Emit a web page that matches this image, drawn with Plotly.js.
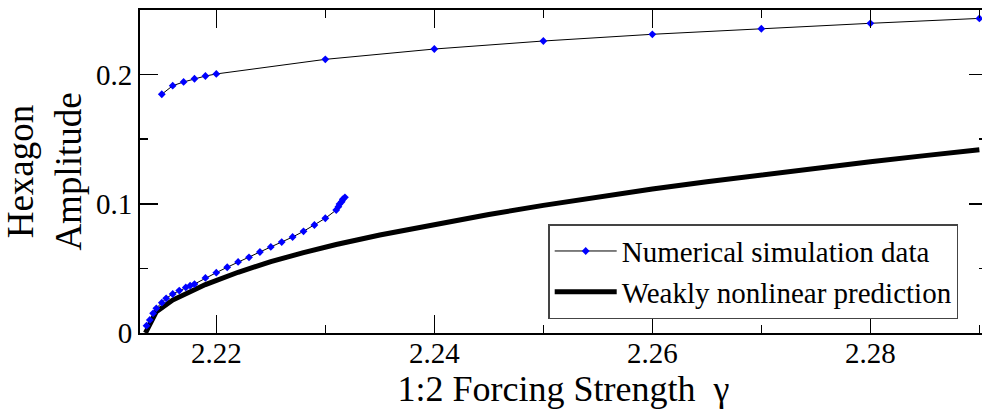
<!DOCTYPE html>
<html>
<head>
<meta charset="utf-8">
<script src="https://cdn.plot.ly/plotly-3.0.1.min.js"></script>
<style>
  html, body { margin: 0; padding: 0; overflow: hidden; background: #fff; }
  #chart { width: 992px; height: 409px; }
</style>
</head>
<body>
<div id="chart"></div>
<script>
// Lower branch of numerical simulation data
const lowX = [2.2136, 2.2139, 2.2142, 2.2145, 2.2150, 2.2154, 2.2160, 2.2166, 2.2172, 2.2176, 2.2180,
              2.219, 2.220, 2.221, 2.222, 2.223, 2.224, 2.225, 2.226, 2.227, 2.228, 2.229, 2.230,
              2.2310, 2.2312, 2.2313, 2.2315, 2.2316, 2.2318];
const lowY = [0.0057, 0.0101, 0.0152, 0.0191, 0.0235, 0.0268, 0.0302, 0.0328, 0.0353, 0.0366, 0.0379,
              0.0426, 0.0467, 0.0509, 0.0550, 0.0586, 0.0627, 0.0666, 0.0704, 0.0743, 0.0787, 0.0836, 0.0888,
              0.0952, 0.0978, 0.0998, 0.1016, 0.1035, 0.1050];
// Upper branch of numerical simulation data
const upX = [2.215, 2.216, 2.217, 2.218, 2.219, 2.22, 2.23, 2.24, 2.25, 2.26, 2.27, 2.28, 2.29];
const upY = [0.1848, 0.1914, 0.1943, 0.1968, 0.1989, 0.2005, 0.2118, 0.2198, 0.2260, 0.2312, 0.2355, 0.2397, 0.2435];
// Weakly nonlinear prediction
const predX = [2.2135, 2.2145, 2.216, 2.219, 2.222, 2.225, 2.228, 2.231, 2.235, 2.24, 2.245, 2.25,
               2.255, 2.26, 2.265, 2.27, 2.275, 2.28, 2.285, 2.29];
const predY = [0, 0.0165, 0.0255, 0.0375, 0.047, 0.0552, 0.0622, 0.0685, 0.0758, 0.0842, 0.0917, 0.0988,
               0.1053, 0.1114, 0.1170, 0.1224, 0.1276, 0.1326, 0.1373, 0.1419];

const seriesNames = ["Numerical simulation data", "Weakly nonlinear prediction"];
const xTitle = "1:2 Forcing Strength  γ";
const yTitle = "Hexagon<br>Amplitude";

const FONT = "Liberation Serif, Times New Roman, serif";

const traces = [
  {
    x: predX, y: predY, mode: "lines", name: seriesNames[1], legendrank: 2,
    line: { color: "#000", width: 5 }
  },
  {
    x: lowX.concat([null], upX), y: lowY.concat([null], upY),
    mode: "lines+markers", name: seriesNames[0], legendrank: 1, connectgaps: false,
    line: { color: "#000", width: 1 },
    marker: { symbol: "diamond", size: 6, color: "#0000ff", line: { width: 0 } }
  }
];

const axisCommon = {
  showline: true, linecolor: "#000", linewidth: 2, mirror: "ticks",
  ticks: "inside", ticklen: 18, tickwidth: 1.5, tickcolor: "#000",
  showgrid: false, zeroline: false,
  tickfont: { family: FONT, size: 29, color: "#000" }
};

const layout = {
  width: 992, height: 409,
  margin: { l: 140, r: 5, t: 10, b: 76 },
  paper_bgcolor: "#fff", plot_bgcolor: "#fff",
  font: { family: FONT, color: "#000" },
  showlegend: true,
  xaxis: Object.assign({}, axisCommon, {
    range: [2.213, 2.2907], dtick: 0.02, tick0: 2.22,
    ticklabelstandoff: -7,
    minor: { ticks: "inside", ticklen: 8, tickwidth: 1.5, tickcolor: "#000", dtick: 0.01, showgrid: false },
    title: { text: xTitle, font: { family: FONT, size: 36, color: "#000" }, standoff: 0 }
  }),
  yaxis: Object.assign({}, axisCommon, {
    range: [0, 0.25], dtick: 0.1, tick0: 0,
    minor: { ticks: "inside", ticklen: 8, tickwidth: 1.5, tickcolor: "#000", dtick: 0.05, showgrid: false },
    title: { text: yTitle, font: { family: FONT, size: 37, color: "#000" }, standoff: 12 }
  }),
  legend: {
    x: 0.966, xanchor: "right", y: 0.19, yanchor: "middle",
    bgcolor: "#fff", bordercolor: "#444", borderwidth: 1.5,
    font: { family: FONT, size: 29, color: "#000" },
    itemwidth: 62,
    tracegroupgap: 0
  }
};

Plotly.newPlot("chart", traces, layout, { displayModeBar: false, staticPlot: true });
</script>
</body>
</html>
